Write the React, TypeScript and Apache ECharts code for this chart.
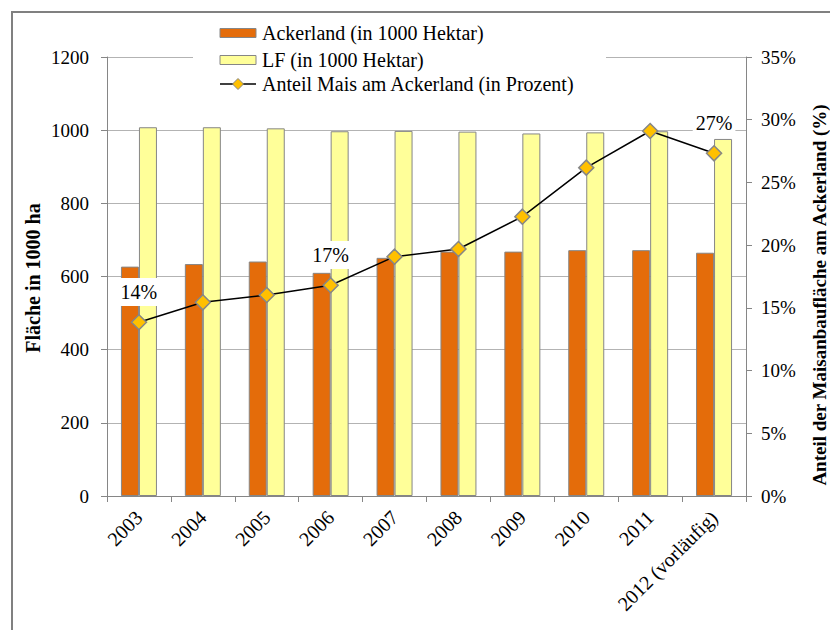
import React, { useEffect, useRef } from "react";
import * as echarts from "echarts";

// Jahre (Kategorien der x-Achse)
const years = [
  "2003",
  "2004",
  "2005",
  "2006",
  "2007",
  "2008",
  "2009",
  "2010",
  "2011",
  "2012 (vorläufig)",
];

// Ackerland in 1000 ha
const ackerland = [627, 634, 641, 610, 651, 668, 668, 672, 672, 665];

// Landwirtschaftlich genutzte Fläche (LF) in 1000 ha
const lf = [1008, 1008, 1005, 997, 998, 996, 991, 994, 997, 976];

// Anteil Mais am Ackerland in Prozent
const maisAnteil = [13.85, 15.44, 16.02, 16.8, 19.08, 19.69, 22.27, 26.18, 29.1, 27.32];

// Punkte, die eine Wertbeschriftung erhalten
const labelledPoints = [0, 3, 9];

const legendNames = [
  "Ackerland (in 1000 Hektar)",
  "LF (in 1000 Hektar)",
  "Anteil Mais am Ackerland (in Prozent)",
];

const leftTicks = { min: 0, max: 1200, interval: 200 };
const rightTicks = { min: 0, max: 35, interval: 5 };

const SERIF = "Liberation Serif";
const GREY = "#868686";
const ORANGE = "#E46C0A";
const YELLOW = "#FFFF99";
const GOLD = "#FFC000";

// Legende als eigene Grafik-Elemente (Kästchen, Linie mit Raute, Texte)
function buildLegend() {
  const iconX = 220;
  const iconW = 36;
  const textX = 262;
  const rowY = [33, 60, 84];
  const font = `20px ${SERIF}`;
  const els: any[] = [
    {
      type: "rect",
      z: 20,
      shape: { x: 193, y: 15, width: 413, height: 86 },
      style: { fill: "#ffffff" },
    },
    {
      type: "rect",
      z: 21,
      shape: { x: iconX, y: rowY[0] - 4.5, width: iconW, height: 9 },
      style: { fill: ORANGE, stroke: GREY, lineWidth: 1 },
    },
    {
      type: "rect",
      z: 21,
      shape: { x: iconX, y: rowY[1] - 4.5, width: iconW, height: 9 },
      style: { fill: YELLOW, stroke: GREY, lineWidth: 1 },
    },
    {
      type: "line",
      z: 21,
      shape: { x1: iconX, y1: rowY[2], x2: iconX + iconW, y2: rowY[2] },
      style: { stroke: "#000", lineWidth: 1.5 },
    },
    {
      type: "polygon",
      z: 22,
      shape: {
        points: [
          [iconX + iconW / 2, rowY[2] - 5.5],
          [iconX + iconW / 2 + 5.5, rowY[2]],
          [iconX + iconW / 2, rowY[2] + 5.5],
          [iconX + iconW / 2 - 5.5, rowY[2]],
        ],
      },
      style: { fill: GOLD, stroke: GREY, lineWidth: 1 },
    },
  ];
  legendNames.forEach((name, i) => {
    els.push({
      type: "text",
      z: 21,
      x: textX,
      y: rowY[i],
      style: {
        text: name,
        font,
        fill: "#000",
        align: "left",
        verticalAlign: "middle",
      },
    });
  });
  return els;
}

export default function App() {
  const ref = useRef<HTMLDivElement | null>(null);

  useEffect(() => {
    if (!ref.current) return;
    const chart = echarts.init(ref.current, undefined, { renderer: "svg" });

    const lineData = maisAnteil.map((v, i) => ({
      value: v,
      label: { show: labelledPoints.includes(i) },
    }));

    chart.setOption({
      animation: false,
      backgroundColor: "#ffffff",
      textStyle: { fontFamily: SERIF },
      grid: { left: 107, right: 84, top: 57, bottom: 134 },
      xAxis: {
        type: "category",
        data: years,
        axisLine: { lineStyle: { color: GREY, width: 1 } },
        axisTick: { show: true, length: 6, lineStyle: { color: GREY } },
        axisLabel: {
          interval: 0,
          rotate: 45,
          margin: 18,
          fontFamily: SERIF,
          fontSize: 20,
          color: "#000",
        },
      },
      yAxis: [
        {
          type: "value",
          ...leftTicks,
          axisLine: { show: true, lineStyle: { color: GREY } },
          axisTick: { show: true, length: 6, lineStyle: { color: GREY } },
          axisLabel: {
            margin: 18,
            fontFamily: SERIF,
            fontSize: 19,
            color: "#000",
            formatter: (v: number) => String(v),
          },
          splitLine: { show: true, lineStyle: { color: "#b3b3b3", width: 1 } },
        },
        {
          type: "value",
          ...rightTicks,
          position: "right",
          axisLine: { show: true, lineStyle: { color: GREY } },
          axisTick: { show: true, length: 6, lineStyle: { color: GREY } },
          axisLabel: {
            margin: 15,
            fontFamily: SERIF,
            fontSize: 19,
            color: "#000",
            formatter: (v: number) => v + "%",
          },
          splitLine: { show: false },
        },
      ],
      series: [
        {
          name: legendNames[0],
          type: "bar",
          data: ackerland,
          barWidth: 18,
          barGap: "0%",
          itemStyle: { color: ORANGE, borderColor: GREY, borderWidth: 1 },
          z: 2,
        },
        {
          name: legendNames[1],
          type: "bar",
          data: lf,
          barWidth: 18,
          barGap: "0%",
          itemStyle: { color: YELLOW, borderColor: GREY, borderWidth: 1 },
          z: 2,
        },
        {
          name: legendNames[2],
          type: "line",
          yAxisIndex: 1,
          data: lineData,
          symbol: "diamond",
          symbolSize: 15,
          lineStyle: { color: "#000", width: 1.5 },
          itemStyle: { color: GOLD, borderColor: GREY, borderWidth: 1.5 },
          z: 5,
          label: {
            position: "top",
            distance: 8,
            fontFamily: SERIF,
            fontSize: 20,
            color: "#000",
            backgroundColor: "#ffffff",
            padding: [4, 3],
            formatter: (p: any) => Math.round(p.value) + "%",
          },
        },
      ],
      graphic: [
        ...buildLegend(),
        {
          type: "rect",
          silent: true,
          z: 10,
          shape: { x: 12, y: 12, width: 900, height: 700 },
          style: { fill: "none", stroke: "#808080", lineWidth: 2 },
        },
        {
          type: "text",
          x: 33,
          y: 278,
          rotation: Math.PI / 2,
          style: {
            text: "Fläche in 1000 ha",
            font: `bold 20px ${SERIF}`,
            fill: "#000",
            align: "center",
            verticalAlign: "middle",
          },
        },
        {
          type: "text",
          x: 819,
          y: 295,
          rotation: Math.PI / 2,
          style: {
            text: "Anteil der Maisanbaufläche am Ackerland (%)",
            font: `bold 19px ${SERIF}`,
            fill: "#000",
            align: "center",
            verticalAlign: "middle",
          },
        },
      ],
    });

    return () => {
      chart.dispose();
    };
  }, []);

  return (
    <div
      ref={ref}
      style={{ position: "fixed", left: 0, top: 0, width: 830, height: 630 }}
    />
  );
}
